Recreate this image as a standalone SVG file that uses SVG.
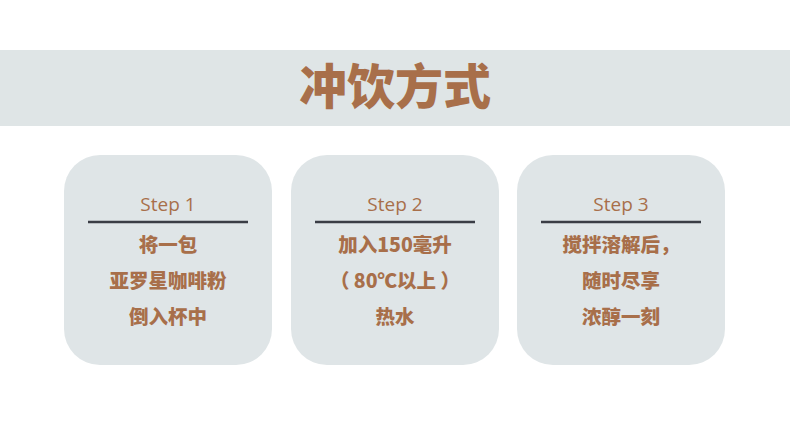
<svg xmlns="http://www.w3.org/2000/svg" width="790" height="427" viewBox="0 0 790 427">
<style>
.card{fill:#dfe5e7}
.step{font-family:"Open Sans","Noto Sans",sans-serif;font-size:19px;fill:#a86f4a;text-anchor:middle}
.txt{font-family:"Noto Sans CJK SC","Noto Sans",sans-serif;font-size:19.5px;font-weight:900;fill:#a86f4a;text-anchor:middle}
.rule{stroke:#3a3d45;stroke-width:2.5}
</style>
<rect x="0" y="0" width="790" height="427" fill="#ffffff"/>
<g id="banner">
<rect x="0" y="50" width="790" height="76" fill="#dfe5e6"/>
<text x="395" y="104" font-family="Noto Sans CJK SC,sans-serif" font-size="48" font-weight="900" fill="#a86f4a" text-anchor="middle">冲饮方式</text>
</g>
<g id="step1">
<rect class="card" x="64" y="155" width="208" height="210" rx="36"/>
<text class="step" x="168" y="211">Step 1</text>
<line class="rule" x1="88" y1="222" x2="248" y2="222"/>
<text class="txt" x="168" y="252">将一包</text>
<text class="txt" x="168" y="288">亚罗星咖啡粉</text>
<text class="txt" x="168" y="324">倒入杯中</text>
</g>
<g id="step2">
<rect class="card" x="291" y="155" width="208" height="210" rx="36"/>
<text class="step" x="395" y="211">Step 2</text>
<line class="rule" x1="315" y1="222" x2="475" y2="222"/>
<text class="txt" x="395" y="252">加入150毫升</text>
<text class="txt" x="395" y="288">（ 80℃以上 ）</text>
<text class="txt" x="395" y="324">热水</text>
</g>
<g id="step3">
<rect class="card" x="517" y="155" width="208" height="210" rx="36"/>
<text class="step" x="621" y="211">Step 3</text>
<line class="rule" x1="541" y1="222" x2="701" y2="222"/>
<text class="txt" x="621" y="252">搅拌溶解后，</text>
<text class="txt" x="621" y="288">随时尽享</text>
<text class="txt" x="621" y="324">浓醇一刻</text>
</g>
<g id="connectors"/>
</svg>
